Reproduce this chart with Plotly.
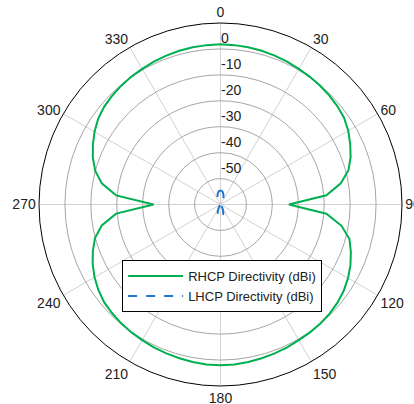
import plotly.graph_objects as go

theta_deg = list(range(0, 361, 5))

rhcp_dbi = [
    1.8, 1.7, 1.6, 1.4, 1.1, 0.8, 0.4, 0.1, -0.2, -0.6,
    -1.1, -1.8, -3.1, -4.8, -6.6, -8.9, -12.9, -19.0, -33.6, -19.0,
    -12.6, -8.5, -6.5, -4.7, -3.2, -2.0, -1.1, -0.5, -0.1, 0.2,
    0.4, 0.8, 1.1, 1.4, 1.7, 1.9, 2.0, 1.9, 1.7, 1.4,
    1.1, 0.8, 0.4, 0.1, -0.3, -0.8, -1.4, -2.5, -3.9, -5.6,
    -7.6, -9.9, -13.5, -19.6, -34.2, -19.6, -13.6, -10.0, -7.6, -5.7,
    -3.9, -2.4, -1.4, -0.8, -0.3, 0.1, 0.4, 0.8, 1.1, 1.4,
    1.6, 1.7, 1.8,
]

lhcp_dbi = [
    -54.6, -54.7, -55.1, -55.8, -56.6, -57.6, -58.8, -60.0, -60.0, -60.0,
    -60.0, -60.0, -60.0, -60.0, -60.0, -60.0, -60.0, -60.0, -60.0, -60.0,
    -60.0, -60.0, -60.0, -60.0, -60.0, -60.0, -60.0, -60.0, -60.0, -60.0,
    -58.9, -57.8, -56.9, -56.0, -55.4, -55.1, -55.0, -55.1, -55.4, -56.0,
    -56.9, -57.8, -58.9, -60.0, -60.0, -60.0, -60.0, -60.0, -60.0, -60.0,
    -60.0, -60.0, -60.0, -60.0, -60.0, -60.0, -60.0, -60.0, -60.0, -60.0,
    -60.0, -60.0, -60.0, -60.0, -60.0, -60.0, -58.8, -57.6, -56.6, -55.8,
    -55.1, -54.7, -54.6,
]

angular_ticks = list(range(0, 360, 30))
angular_labels = [str(a) for a in angular_ticks]
radial_ticks = [-50, -40, -30, -20, -10, 0]
radial_labels = [str(v) for v in radial_ticks]

r_range = [-60, 10]
label_lift_db = 4  # radial labels sit just above their ring

fig = go.Figure()
fig.add_trace(go.Scatterpolar(
    r=rhcp_dbi, theta=theta_deg, mode="lines",
    name="RHCP Directivity (dBi)",
    line=dict(color="#00b050", width=2),
))
fig.add_trace(go.Scatterpolar(
    r=lhcp_dbi, theta=theta_deg, mode="lines",
    name="LHCP Directivity (dBi)",
    line=dict(color="#1f77d0", width=2, dash="dash"),
))
# empty helper trace so the label-only overlay subplot is rendered
fig.add_trace(go.Scatterpolar(
    r=[], theta=[], subplot="polar2", showlegend=False, hoverinfo="skip",
))

font = "Liberation Sans, Arial, sans-serif"
fig.update_layout(
    width=414, height=404,
    margin=dict(l=39, r=12, t=23, b=18),
    paper_bgcolor="white",
    font=dict(family=font, size=14, color="#222222"),
    showlegend=True,
    legend=dict(
        x=0.229, y=0.347, xanchor="left", yanchor="top",
        bgcolor="white", bordercolor="black", borderwidth=1,
        itemwidth=55,
        font=dict(size=13, color="#222222"),
    ),
    polar=dict(
        domain=dict(x=[0, 1], y=[0, 1]),
        bgcolor="white",
        angularaxis=dict(
            rotation=90, direction="clockwise",
            tickmode="array", tickvals=angular_ticks, ticktext=angular_labels,
            showline=True, linecolor="black", linewidth=1,
            showgrid=True, gridcolor="#d2d2d2", gridwidth=1,
            ticks="", tickfont=dict(size=14, color="#222222"),
        ),
        radialaxis=dict(
            range=r_range, angle=90,
            tickmode="array", tickvals=radial_ticks,
            showticklabels=False,
            showline=False, showgrid=True, gridcolor="#a6a6a6", gridwidth=1,
            ticks="",
        ),
    ),
    polar2=dict(
        domain=dict(x=[0, 1], y=[0, 1]),
        bgcolor="rgba(0,0,0,0)",
        angularaxis=dict(
            rotation=90, direction="clockwise",
            showline=False, showgrid=False, showticklabels=False, ticks="",
        ),
        radialaxis=dict(
            range=r_range, angle=90, tickangle=90,
            tickmode="array",
            tickvals=[v + label_lift_db for v in radial_ticks],
            ticktext=radial_labels,
            showline=False, showgrid=False, ticks="", side="clockwise",
            tickfont=dict(size=14, color="#222222"),
        ),
    ),
)

fig.write_html(
    "out.html",
    config={"displayModeBar": False},
    post_script="document.body.style.margin='0';",
)
